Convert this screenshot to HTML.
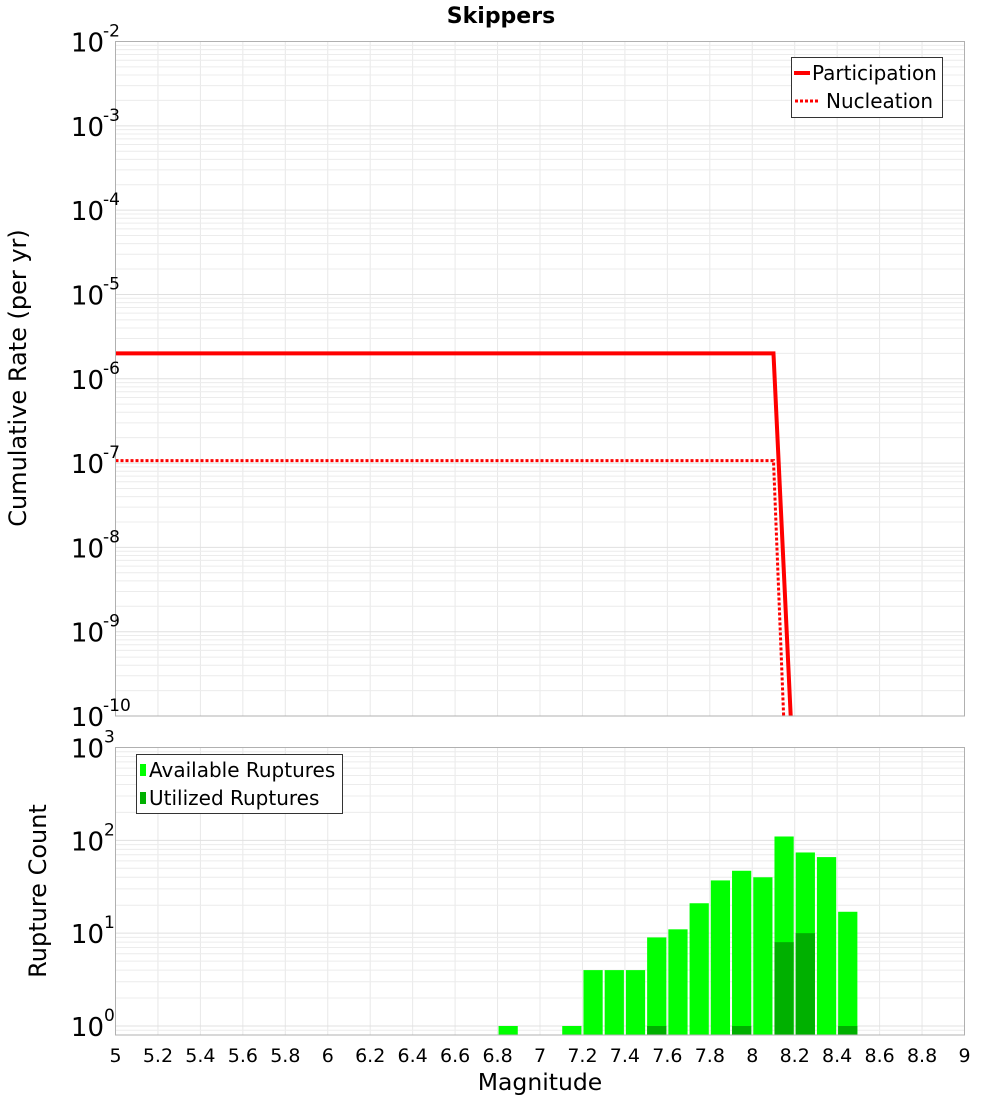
<!DOCTYPE html>
<html><head><meta charset="utf-8">
<style>
html,body{margin:0;padding:0;background:#fff;}
svg{display:block;font-family:"DejaVu Sans","Liberation Sans",sans-serif;}
</style></head>
<body>
<svg id="chart" width="1000" height="1100" viewBox="0 0 1000 1100">
  <text x="501" y="23" text-anchor="middle" font-size="22" font-weight="bold">Skippers</text>
  <g id="top-grid"></g>
  <g id="bot-grid"></g>
  <g id="bars"></g>
  <g id="lines"></g>
  <rect x="115.5" y="41.5" width="849" height="674.5" fill="none" stroke="#b0b0b0"/>
  <rect x="115.5" y="747.5" width="849" height="287.5" fill="none" stroke="#b0b0b0"/>
  <g id="top-yticks"></g>
  <g id="bot-yticks"></g>
  <g id="xticks"></g>
  <text transform="translate(26,378) rotate(-90)" text-anchor="middle" font-size="24">Cumulative Rate (per yr)</text>
  <text transform="translate(46,891) rotate(-90)" text-anchor="middle" font-size="24">Rupture Count</text>
  <text x="540" y="1090" text-anchor="middle" font-size="23.5">Magnitude</text>
  <g>
    <rect x="791.5" y="57.5" width="151" height="60" fill="#fff" stroke="#333"/>
    <line x1="794" y1="73" x2="810" y2="73" stroke="#f00" stroke-width="4"/>
    <text x="812" y="80" font-size="20">Participation</text>
    <line x1="795" y1="101" x2="819" y2="101" stroke="#f00" stroke-width="3" stroke-dasharray="3,2"/>
    <text x="826" y="108" font-size="20">Nucleation</text>
  </g>
  <g>
    <rect x="136.5" y="754.5" width="206" height="59" fill="#fff" stroke="#333"/>
    <rect x="140" y="764" width="6" height="12" fill="#00ff00"/>
    <text x="149" y="777" font-size="20">Available Ruptures</text>
    <rect x="140" y="792" width="6" height="12" fill="#00b000"/>
    <text x="149" y="805" font-size="20">Utilized Ruptures</text>
  </g>
</svg>
<script>
const binStarts = [6.8,7.1,7.2,7.3,7.4,7.5,7.6,7.7,7.8,7.9,8.0,8.1,8.2,8.3,8.4];
const availableCounts = [1,1,4,4,4,9,11,21,37,47,40,110,74,66,17];
const utilizedCounts = [0,0,0,0,0,1,0,0,0,1,0,8,10,0,1];
const participationMags = [5,8.1,8.2];
const participationRates = [2e-6,2e-6,1e-11];
const nucleationMags = [5,8.1,8.2];
const nucleationRates = [1.07e-7,1.07e-7,5e-14];
const xTickLabels = ['5','5.2','5.4','5.6','5.8','6','6.2','6.4','6.6','6.8','7','7.2','7.4','7.6','7.8','8','8.2','8.4','8.6','8.8','9'];
const topDecades = [-2,-3,-4,-5,-6,-7,-8,-9,-10];
const botDecades = [3,2,1,0];

const NS='http://www.w3.org/2000/svg';
const X0=115.5,X1=964.5,XMIN=5,XMAX=9;
const TY0=41.5,TY1=716,TMAX=-2,TMIN=-10;
const BY0=747.5,BY1=1035,BMAX=3,BZERO=1026;
const xs=m=>X0+(m-XMIN)/(XMAX-XMIN)*(X1-X0);
const ty=v=>TY0+(TMAX-Math.log10(v))/(TMAX-TMIN)*(TY1-TY0);
const BDEC=(BZERO-BY0)/3;
const by=v=>BZERO-Math.log10(v)*BDEC;
function mk(tag,attrs,parent){const e=document.createElementNS(NS,tag);for(const k in attrs)e.setAttribute(k,attrs[k]);parent.appendChild(e);return e;}

const tg=document.getElementById('top-grid'), bg=document.getElementById('bot-grid');
xTickLabels.forEach(l=>{const x=xs(parseFloat(l));
  mk('line',{x1:x,y1:TY0,x2:x,y2:TY1,stroke:'#e8e8e8'},tg);
  mk('line',{x1:x,y1:BY0,x2:x,y2:BY1,stroke:'#e8e8e8'},bg);});
for(let d=-10;d<-2;d++)for(let k=1;k<10;k++){const y=ty(k*Math.pow(10,d));
  mk('line',{x1:X0,y1:y,x2:X1,y2:y,stroke:k==1?'#e0e0e0':'#ececec'},tg);}
for(let d=-1;d<3;d++)for(let k=1;k<10;k++){const y=by(k*Math.pow(10,d));
  if(y>BY1||y<BY0)continue;
  mk('line',{x1:X0,y1:y,x2:X1,y2:y,stroke:k==1?'#e0e0e0':'#ececec'},bg);}

const tyt=document.getElementById('top-yticks');
topDecades.forEach(d=>{const y=ty(Math.pow(10,d));
  const t=mk('text',{x:104,y:y+10,'text-anchor':'end','font-size':26},tyt);
  
  
  t.textContent='10';
  const s=mk('text',{x:103,y:y-5,'font-size':17},tyt);
  
  
  s.textContent=String(d);});
const byt=document.getElementById('bot-yticks');
botDecades.forEach(d=>{const y=by(Math.pow(10,d));
  const t=mk('text',{x:104,y:y+10,'text-anchor':'end','font-size':26},byt);
  
  
  t.textContent='10';
  const s=mk('text',{x:104,y:y-5,'font-size':17},byt);
  
  
  s.textContent=String(d);});
const xt=document.getElementById('xticks');
xTickLabels.forEach(l=>{const t=mk('text',{x:xs(parseFloat(l)),y:1062,'text-anchor':'middle','font-size':19},xt);
  
  
  t.textContent=l;});

const bars=document.getElementById('bars');
binStarts.forEach((m,i)=>{const x=xs(m)+1,w=xs(m+0.1)-xs(m)-2;
  const ya=by(availableCounts[i]);
  const r=mk('rect',{x:x,y:ya,width:w,height:BY1-ya,fill:'#00ff00'},bars);
  
  
  if(utilizedCounts[i]>0){const yu=by(utilizedCounts[i]);
    const u=mk('rect',{x:x,y:yu,width:w,height:BY1-yu,fill:'#00b000'},bars);
    
    }});

const lines=document.getElementById('lines');
const cp=mk('clipPath',{id:'tclip'},lines);
mk('rect',{x:X0,y:TY0,width:X1-X0,height:TY1-TY0},cp);
function poly(ms,vs,attrs,name){
  const pts=ms.map((m,i)=>xs(m)+','+ty(vs[i])).join(' ');
  const p=mk('polyline',Object.assign({points:pts,fill:'none','clip-path':'url(#tclip)'},attrs),lines);
  
  }
poly(participationMags,participationRates,{stroke:'#f00','stroke-width':4},'participation-line');
poly(nucleationMags,nucleationRates,{stroke:'#f00','stroke-width':3,'stroke-dasharray':'3,2'},'nucleation-line');
</script>
</body></html>
